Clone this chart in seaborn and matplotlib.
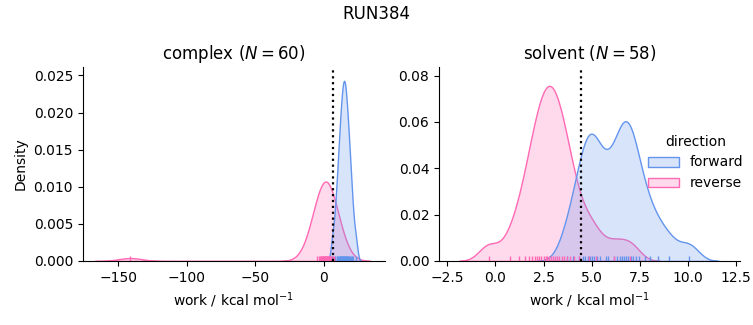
import matplotlib
matplotlib.use("Agg")
import matplotlib.pyplot as plt
import numpy as np
import pandas as pd
import seaborn as sns

run_name = "RUN384"
phases = ["complex", "solvent"]
directions = ["forward", "reverse"]

complex_forward = [13.94, 17.42, 11.08, 15.51, 9.87, 20.23, 12.41, 14.52, 16.63, 8.12,
                   18.31, 13.18, 15.86, 12.02, 21.17, 14.21, 10.49, 17.01, 12.77, 19.48,
                   6.24, 15.24, 11.62, 16.18, 13.52, 23.15, 14.88, 9.21, 17.84, 18.93]
complex_reverse = [0.47, -2.43, 3.06, -141.2, 1.31, -0.82, 4.52, -5.25, 2.13, -0.14,
                   1.87, 5.44, -1.52, 0.98, -3.7, 2.41, 3.79, -0.46, 6.28, 1.58,
                   -1.97, 0.21, 4.11, -2.94, 2.77, 7.65, -1.16, 3.44, 0.74, 5.03]
solvent_forward = [4.79, 6.58, 7.14, 3.71, 5.27, 6.32, 8.02, 4.53, 6.90, 5.01,
                   7.46, 4.35, 6.70, 10.05, 5.45, 6.14, 4.90, 7.28, 8.45, 4.67,
                   6.80, 5.83, 5.13, 7.02, 9.02, 4.05, 6.46, 5.75, 7.77]
solvent_reverse = [2.61, 1.24, 3.32, -0.35, 2.90, 4.08, 1.89, 2.39, 5.21, 3.00,
                   0.75, 2.70, 3.57, 2.16, 6.15, 1.52, 3.89, 2.80, 4.36, 2.03,
                   3.10, 7.0, 1.72, 2.50, 3.44, 4.85, 2.28, 3.71, 3.21]
free_energy = [6.9, 4.46]  # dotted reference line per phase

works = {
    ("complex", "forward"): complex_forward,
    ("complex", "reverse"): complex_reverse,
    ("solvent", "forward"): solvent_forward,
    ("solvent", "reverse"): solvent_reverse,
}
rows = []
for (ph, d), vals in works.items():
    for v in vals:
        rows.append({"phase": ph, "direction": d, "work": v})
df = pd.DataFrame(rows)

palette = {"forward": "cornflowerblue", "reverse": "hotpink"}

g = sns.displot(data=df, x="work", hue="direction", col="phase", kind="kde",
                fill=True, rug=True, bw_adjust=0.65, palette=palette,
                hue_order=directions, col_order=phases,
                facet_kws=dict(sharex=False, sharey=False), height=3, aspect=1.2)

fig = g.figure
fig.set_size_inches(7.53, 3.25)
g.set_axis_labels("work / kcal mol$^{-1}$", "Density")

positions = [[0.110, 0.197, 0.401, 0.596], [0.583, 0.197, 0.400, 0.596]]
xlims = [(-175.8, 44.4), (-2.93, 12.71)]
ylims = [(0, 0.0261), (0, 0.0836)]
for i, ph in enumerate(phases):
    ax = g.axes[0, i]
    ax.set_position(positions[i])
    n = int((df["phase"] == ph).sum())
    ax.set_title(f"{ph} ($N={n}$)", fontsize=12)
    ax.axvline(free_energy[i], color="black", ls=":", lw=1.6)
    ax.set_xlim(*xlims[i])
    ax.set_ylim(*ylims[i])

sns.move_legend(g, "center right", bbox_to_anchor=(1.004, 0.5), frameon=False,
                handlelength=2.2)
fig.suptitle(run_name, fontsize=12, y=0.985)

fig.savefig("out.png", dpi=100)
